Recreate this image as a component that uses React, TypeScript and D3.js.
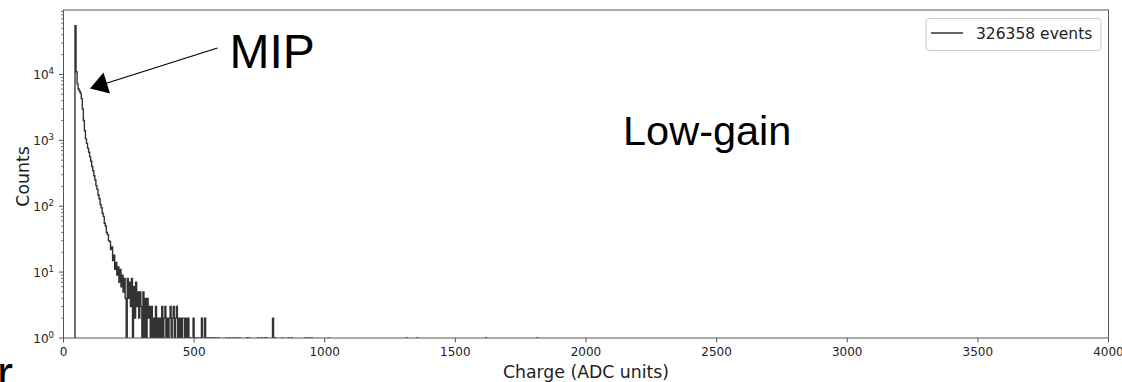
import React from 'react';
import * as d3 from 'd3';

const W = 1122;
const H = 382;

// Histogram of low-gain charge, 4 ADC-unit bins starting at 44
const BIN_START = 44;
const BIN_WIDTH = 4;
const mainCounts = [
  55000, 11000, 7200, 6000, 5600, 5200, 4300, 3000, 2000, 1400,
  1050, 900, 760, 660, 560, 480, 400, 345, 290, 250,
  205, 180, 148, 130, 106, 95, 78, 70, 55, 50,
  40, 37, 30, 29, 22, 24, 15, 18, 11, 14,
  9, 12, 7, 11, 6, 9, 5, 8, 4, 0,
  8, 4, 7, 3, 8, 0, 6, 2, 7, 3,
  5, 2, 5, 3, 0, 5, 1, 4, 0, 4,
  2, 3, 1, 3, 0, 2, 0, 3, 1, 2,
  0, 2, 1, 3, 0, 2, 3, 0, 2, 1,
  2, 3, 0, 2, 3, 1, 2, 3, 0, 2,
  1, 2, 0, 2, 2, 0, 2, 1, 2, 0,
  1, 0, 0, 2, 0, 1, 0, 1, 0, 0,
  1, 2, 0, 0, 2, 0, 1, 0, 1,
];

// Sparse high-charge bins: [bin start (ADC), count]
const tailBins: [number, number][] = [
  [564, 1], [572, 1], [580, 1], [592, 1], [624, 1], [636, 1], [648, 1],
  [660, 1], [672, 1], [700, 1], [708, 1], [744, 1], [756, 1], [768, 1],
  [776, 1], [800, 2], [808, 1], [836, 1], [860, 1], [872, 1], [924, 1],
  [936, 1], [948, 1], [1012, 1], [1312, 1], [1352, 1], [1616, 1], [1812, 1],
];

const xTicks = [0, 500, 1000, 1500, 2000, 2500, 3000, 3500, 4000];
const yTickExps = [0, 1, 2, 3, 4];
const legendLabel = '326358 events';

const plot = { left: 63.5, right: 1108.5, top: 10, bottom: 338 };

export default function App() {
  const x = d3.scaleLinear().domain([0, 4000]).range([plot.left, plot.right]);
  const y = d3.scaleLog().domain([1, 95000]).range([plot.bottom, plot.top]);

  // assemble every bin from the first edge to past the last tail entry
  const countMap = new Map<number, number>();
  mainCounts.forEach((c, i) => countMap.set(BIN_START + i * BIN_WIDTH, c));
  tailBins.forEach(([s, c]) => countMap.set(s, c));
  const lastStart = d3.max(tailBins, (d) => d[0]) as number;
  const bins: [number, number][] = [];
  for (let s = BIN_START; s <= lastStart; s += BIN_WIDTH) {
    bins.push([s, countMap.get(s) ?? 0]);
  }
  bins.push([lastStart + BIN_WIDTH, 0]);
  const below = plot.bottom + 40;
  const stepLine = d3
    .line<[number, number]>()
    .x((d) => x(d[0]))
    .y((d) => (d[1] > 0 ? y(d[1]) : below))
    .curve(d3.curveStepAfter);
  const path = stepLine([[BIN_START, 0], ...bins]) || '';

  const minor: number[] = [];
  yTickExps.forEach((e) => {
    for (let m = 2; m <= 9; m++) {
      const v = m * Math.pow(10, e);
      if (v <= 95000) minor.push(v);
    }
  });

  const tickFont = 'DejaVu Sans, sans-serif';
  const axisColor = '#555';

  return (
    <div style={{ position: 'absolute', left: 0, top: 0 }}>
      <svg width={W} height={H} style={{ display: 'block', background: '#fff' }}>
        <defs>
          <clipPath id="plotClip">
            <rect x={plot.left} y={plot.top} width={plot.right - plot.left} height={plot.bottom - plot.top} />
          </clipPath>
        </defs>

        {/* histogram */}
        <path d={path} fill="none" stroke="#333" strokeWidth={1.4} clipPath="url(#plotClip)" />

        {/* frame */}
        <rect
          x={plot.left}
          y={plot.top}
          width={plot.right - plot.left}
          height={plot.bottom - plot.top}
          fill="none"
          stroke={axisColor}
          strokeWidth={1}
        />

        {/* x axis */}
        {xTicks.map((t) => (
          <g key={t}>
            <line x1={x(t)} x2={x(t)} y1={plot.bottom} y2={plot.bottom + 4.5} stroke={axisColor} />
            <text x={x(t)} y={356} textAnchor="middle" fontFamily={tickFont} fontSize={12} fill="#222">
              {t}
            </text>
          </g>
        ))}
        <text x={586} y={377.5} textAnchor="middle" fontFamily={tickFont} fontSize={17.3} fill="#222">
          Charge (ADC units)
        </text>

        {/* y axis */}
        {minor.map((v) => (
          <line key={'m' + v} x1={plot.left - 2.5} x2={plot.left} y1={y(v)} y2={y(v)} stroke={axisColor} strokeWidth={0.8} />
        ))}
        {yTickExps.map((e) => {
          const ty = y(Math.pow(10, e));
          return (
            <g key={e}>
              <line x1={plot.left - 4.5} x2={plot.left} y1={ty} y2={ty} stroke={axisColor} />
              <text x={54} y={ty + 4.5} textAnchor="end" fontFamily={tickFont} fontSize={12} fill="#222">
                10
                <tspan dy={-5} fontSize={8.5}>
                  {e}
                </tspan>
              </text>
            </g>
          );
        })}
        <text
          transform={`translate(29.3, 176.5) rotate(-90)`}
          textAnchor="middle"
          fontFamily={tickFont}
          fontSize={17.3}
          fill="#222"
        >
          Counts
        </text>

        {/* legend */}
        <rect x={926} y={18.5} width={175} height={32} rx={3} fill="#fff" stroke="#ccc" strokeWidth={1} />
        <line x1={931} x2={963} y1={33} y2={33} stroke="#333" strokeWidth={1.5} />
        <text x={976} y={38.5} fontFamily={tickFont} fontSize={15.5} fill="#222">
          {legendLabel}
        </text>

        {/* annotations */}
        <line x1={217.5} y1={48} x2={104} y2={84} stroke="#000" strokeWidth={1.3} />
        <polygon points="90,88.5 103.5,72.5 110,93.5" fill="#000" />
        <text x={229.5} y={68} fontFamily="Liberation Sans, Arial, sans-serif" fontSize={48} fill="#000">
          MIP
        </text>
        <text x={623} y={145} fontFamily="Liberation Sans, Arial, sans-serif" fontSize={41.5} fill="#000">
          Low-gain
        </text>
        <text x={-3} y={390} fontFamily="Liberation Sans, Arial, sans-serif" fontSize={48} fill="#000">
          r
        </text>
      </svg>
    </div>
  );
}
